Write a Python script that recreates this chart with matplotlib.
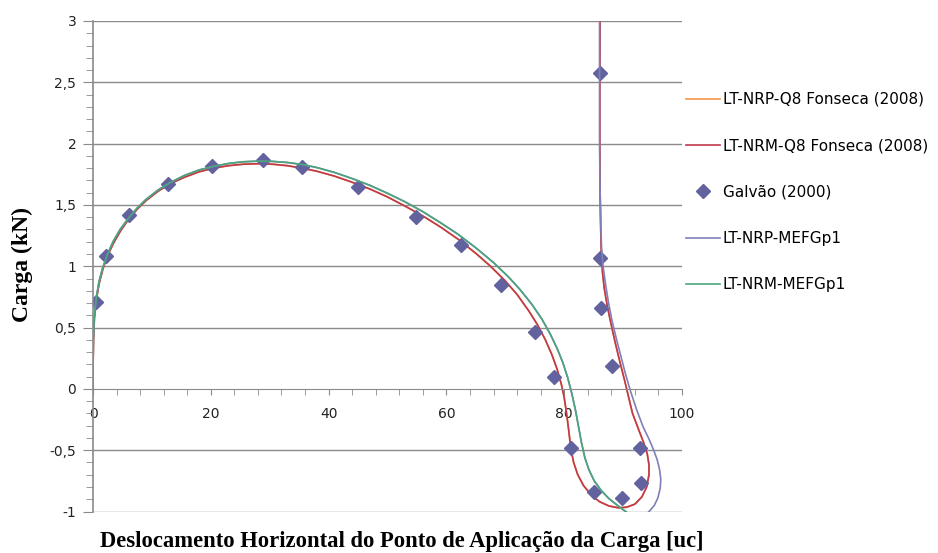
import matplotlib
matplotlib.use('Agg')
import matplotlib.pyplot as plt
from matplotlib.ticker import MultipleLocator, FuncFormatter

# Galvão (2000) reference points
galvao_x = [0.5, 2.2, 6.1, 12.7, 20.2, 28.9, 35.5, 45.0, 54.8, 62.5, 69.3, 75.0, 78.3,
            81.1, 85.0, 89.8, 93.0, 92.9, 88.2, 86.3, 86.1, 86.0]
galvao_y = [0.71, 1.08, 1.42, 1.67, 1.82, 1.87, 1.81, 1.65, 1.40, 1.17, 0.85, 0.46, 0.10,
            -0.48, -0.84, -0.89, -0.77, -0.48, 0.19, 0.66, 1.07, 2.58]

# LT-NRM-Q8 Fonseca (2008)
nrm_q8_x = [0, 0.02, 0.08, 0.25, 0.6, 1.1, 1.7, 2.5, 3.5, 4.7, 6.0, 7.5, 9.0, 11.0, 13.0,
            15.5, 18.0, 20.5, 23.0, 25.5, 28.0, 30.5, 33.0, 35.5, 38.0, 41.0, 44.0, 47.0,
            50.0, 53.0, 56.0, 59.0, 62.0, 65.0, 67.5, 70.0, 72.0, 74.0, 75.5, 76.8, 77.9,
            78.8, 79.5, 80.0, 80.4, 80.8, 81.1, 81.6, 82.3, 83.3, 84.6, 86.0, 87.6, 89.2,
            90.6, 92.0, 93.2, 94.0, 94.4, 94.4, 94.1, 93.5, 92.7, 91.6, 90.9, 90.2, 89.4,
            88.6, 87.9, 87.3, 86.8, 86.5, 86.3, 86.2, 86.1, 86.05, 86.05, 86.1]
nrm_q8_y = [0, 0.2, 0.4, 0.58, 0.74, 0.87, 0.98, 1.09, 1.19, 1.29, 1.38, 1.465, 1.535,
            1.61, 1.67, 1.725, 1.77, 1.80, 1.82, 1.832, 1.836, 1.832, 1.82, 1.80, 1.775,
            1.735, 1.685, 1.63, 1.565, 1.49, 1.41, 1.32, 1.22, 1.105, 1.0, 0.88, 0.77,
            0.635, 0.52, 0.40, 0.28, 0.16, 0.04, -0.07, -0.2, -0.35, -0.48, -0.60, -0.70,
            -0.79, -0.865, -0.92, -0.955, -0.97, -0.965, -0.94, -0.88, -0.80, -0.70,
            -0.62, -0.53, -0.44, -0.34, -0.20, -0.06, 0.08, 0.23, 0.39, 0.54, 0.68, 0.82,
            0.95, 1.1, 1.3, 1.6, 2.0, 2.5, 3.05]

# LT-NRP-Q8 Fonseca (2008) runs under the NRM curve
nrp_q8_x = list(nrm_q8_x)
nrp_q8_y = list(nrm_q8_y)

# LT-NRM-MEFGp1
nrm_mefg_x = [0, 0.02, 0.06, 0.2, 0.55, 1.0, 1.6, 2.4, 3.4, 4.6, 6.0, 7.5, 9.0, 11.0, 13.0,
              15.5, 18.0, 20.5, 23.0, 25.5, 28.0, 30.5, 33.0, 35.5, 38.0, 41.0, 44.0,
              47.0, 50.0, 53.0, 56.0, 59.0, 62.0, 65.0, 68.0, 70.5, 72.5, 74.5, 76.2,
              77.6, 78.8, 79.8, 80.6, 81.3, 81.9, 82.4, 82.9, 83.5, 84.2, 85.1, 86.3,
              87.6, 88.9, 90.0, 91.0, 92.0]
nrm_mefg_y = [0, 0.2, 0.4, 0.58, 0.74, 0.87, 0.98, 1.09, 1.2, 1.3, 1.39, 1.475, 1.545,
              1.62, 1.68, 1.74, 1.785, 1.815, 1.838, 1.852, 1.857, 1.855, 1.846, 1.83,
              1.805, 1.765, 1.715, 1.66, 1.595, 1.525, 1.445, 1.355, 1.26, 1.15, 1.03,
              0.915, 0.81, 0.69, 0.57, 0.45, 0.33, 0.21, 0.09, -0.04, -0.17, -0.30,
              -0.43, -0.56, -0.66, -0.75, -0.83, -0.895, -0.945, -0.985, -1.02, -1.06]

# LT-NRP-MEFGp1: shares the arch with NRM, then loops back below the axis
nrp_mefg_x = nrm_mefg_x + [93.0, 93.8, 94.6, 95.3, 95.9, 96.3, 96.4, 96.2, 95.8, 95.2,
                           94.4, 93.4, 92.3, 91.2, 90.3, 89.5, 88.8, 88.1, 87.5, 87.0,
                           86.6, 86.35, 86.2, 86.1, 86.0, 86.0, 86.0]
nrp_mefg_y = nrm_mefg_y + [-1.07, -1.03, -0.99, -0.95, -0.89, -0.81, -0.74, -0.66,
                           -0.58, -0.50, -0.41, -0.31, -0.17, -0.01, 0.14, 0.29, 0.42,
                           0.56, 0.71, 0.86, 1.0, 1.15, 1.35, 1.6, 2.0, 2.5, 3.05]

fig = plt.figure(figsize=(9.38, 5.53), dpi=100)
ax = fig.add_axes([93 / 938, 1 - 511.5 / 553, (682 - 93) / 938, (511.5 - 21) / 553])

grid_col = '#8a8a8a'
ax.set_xlim(0, 100)
ax.set_ylim(-1, 3)
for v in [-1, -0.5, 0.5, 1, 1.5, 2, 2.5, 3]:
    ax.axhline(v, color=grid_col, lw=1.0, zorder=0)

ax.plot(nrp_q8_x, nrp_q8_y, color='#F79646', lw=1.2, label='LT-NRP-Q8 Fonseca (2008)')
ax.plot(nrm_q8_x, nrm_q8_y, color='#C0394A', lw=1.2, label='LT-NRM-Q8 Fonseca (2008)')
ax.plot(galvao_x, galvao_y, ls='none', marker='D', ms=7, color='#62629E',
        label='Galvão (2000)')
ax.plot(nrp_mefg_x, nrp_mefg_y, color='#8080B8', lw=1.2, label='LT-NRP-MEFGp1')
ax.plot(nrm_mefg_x, nrm_mefg_y, color='#4BA57A', lw=1.2, label='LT-NRM-MEFGp1')

# axes styling: x axis crosses at zero
for s in ['top', 'right']:
    ax.spines[s].set_visible(False)
ax.spines['bottom'].set_position(('data', 0))
ax.spines['bottom'].set_color(grid_col)
ax.spines['left'].set_color(grid_col)
ax.spines['left'].set_linewidth(1.2)

ax.xaxis.set_major_locator(MultipleLocator(20))
ax.xaxis.set_minor_locator(MultipleLocator(4))
ax.yaxis.set_major_locator(MultipleLocator(0.5))
ax.yaxis.set_minor_locator(MultipleLocator(0.1))
ax.yaxis.set_major_formatter(FuncFormatter(lambda v, p: ('%g' % v).replace('.', ',')))

ax.tick_params(axis='x', which='both', direction='out', length=4, color=grid_col,
               labelsize=10, pad=9, labelcolor='#222222')
ax.tick_params(axis='y', which='major', direction='out', length=7, color=grid_col,
               labelsize=10, pad=5, labelcolor='#222222')
ax.tick_params(axis='y', which='minor', direction='out', length=5, color=grid_col)
for lab in ax.get_xticklabels() + ax.get_yticklabels():
    lab.set_family('DejaVu Sans')

fig.text(402 / 938, 1 - 541 / 553, 'Deslocamento Horizontal do Ponto de Aplicação da Carga [uc]',
         family='Liberation Serif', weight='bold', fontsize=16.3, ha='center', va='center')
fig.text(22 / 938, 1 - 264 / 553, 'Carga (kN)', family='Liberation Serif', weight='bold',
         fontsize=17, rotation=90, ha='center', va='center')

fig.legend(loc='upper left', bbox_to_anchor=(686 / 938, 1 - 92 / 553), frameon=False,
           fontsize=11, labelspacing=2.05, handlelength=2.2, handletextpad=0.2,
           borderpad=0, borderaxespad=0)

fig.savefig('out.png', dpi=100)
